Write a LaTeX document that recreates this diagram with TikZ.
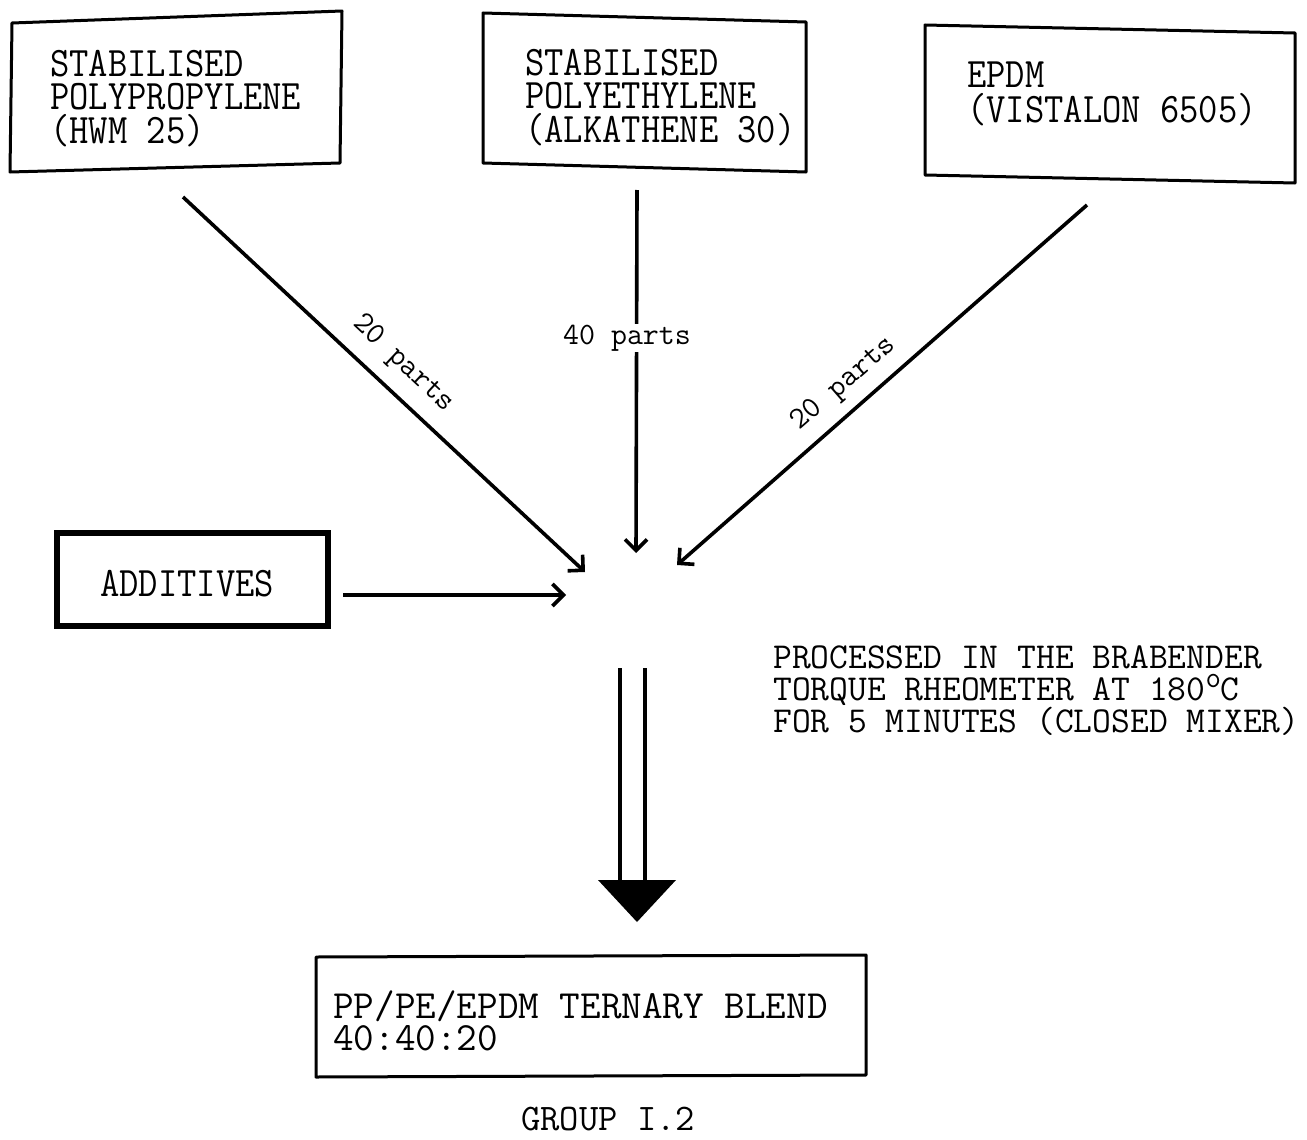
\documentclass[tikz,border=0pt]{standalone}
\usetikzlibrary{arrows.meta}
\begin{document}
\begin{tikzpicture}[x=1pt,y=-1pt,
 boxline/.style={line width=3pt, line join=round},
 txt/.style={font=\ttfamily\fontsize{37.5}{33}\selectfont, align=left, anchor=base west, inner sep=0pt},
 tall/.style={yscale=1.12, font=\ttfamily\fontsize{37.5}{29.5}\selectfont},
 lbl/.style={font=\ttfamily\fontsize{31}{31}\selectfont, inner sep=1pt},
 arr/.style={line width=3.6pt, -{Straight Barb[length=11pt,width=22pt,line width=3.6pt]}}
]
\useasboundingbox (0,0) rectangle (1307,1140);
% boxes
\draw[boxline] (12,23) -- (342,11) -- (340,163) -- (10,172) -- cycle;
\draw[boxline] (483,13) -- (806,22) -- (806,172) -- (483,163) -- cycle;
\draw[boxline] (925,25) -- (1295,33) -- (1295,183) -- (925,175) -- cycle;
\draw[line width=6pt] (57,533) rectangle (328,626);
\draw[boxline] (316,957) -- (866,955) -- (866,1075) -- (316,1077) -- cycle;
% texts (anchor = baseline of the last line)
\node[txt, tall] (pp) at (50,143) {STABILISED\\POLYPROPYLENE\\(HWM 25)};
\node[txt, tall] (pe) at (525,142) {STABILISED\\POLYETHYLENE\\(ALKATHENE 30)};
\node[txt, tall, font=\ttfamily\fontsize{37.5}{31.2}\selectfont] (epdm) at (967,122) {EPDM\\(VISTALON 6505)};
\node[txt, tall] (add) at (100,596) {ADDITIVES};
\node[txt, font=\ttfamily\fontsize{40}{32}\selectfont] (blend) at (333,1050) {PP/PE/EPDM TERNARY BLEND\\40:40:20};
\node[txt, font=\ttfamily\fontsize{36.5}{32}\selectfont] (proc) at (773,732) {PROCESSED IN THE BRABENDER\\TORQUE RHEOMETER AT 180\raisebox{0.33em}{\fontsize{30}{30}\selectfont o}C\\FOR 5 MINUTES (CLOSED MIXER)};
\node[txt] (grp) at (521,1130) {GROUP I.2};
% connectors
\coordinate (ppS) at (183,197); \coordinate (hubPP) at (585,572);
\coordinate (peS) at (637,190); \coordinate (hubPE) at (636,553);
\coordinate (epS) at (1087,205); \coordinate (hubEP) at (677,565);
\coordinate (addS) at (343,595); \coordinate (hubAD) at (566,595);
\draw[arr] (ppS) -- (hubPP);
\draw[arr] (peS) -- (hubPE);
\draw[arr] (epS) -- (hubEP);
\draw[arr] (addS) -- (hubAD);
\node[lbl, rotate=-43] (l1) at (403,364) {20 parts};
\node[lbl, fill=white, anchor=base] (l2) at (627,344) {40 parts};
\node[lbl, rotate=41] (l3) at (844,384) {20 parts};
% process arrow
\coordinate (mixL) at (620,668); \coordinate (mixR) at (645,668);
\coordinate (mixLb) at (620,882); \coordinate (mixRb) at (645,882);
\draw[line width=4pt] (mixL) -- (mixLb) (mixR) -- (mixRb);
\fill (598,880) -- (676,880) -- (637,922) -- cycle;
\end{tikzpicture}
\end{document}
